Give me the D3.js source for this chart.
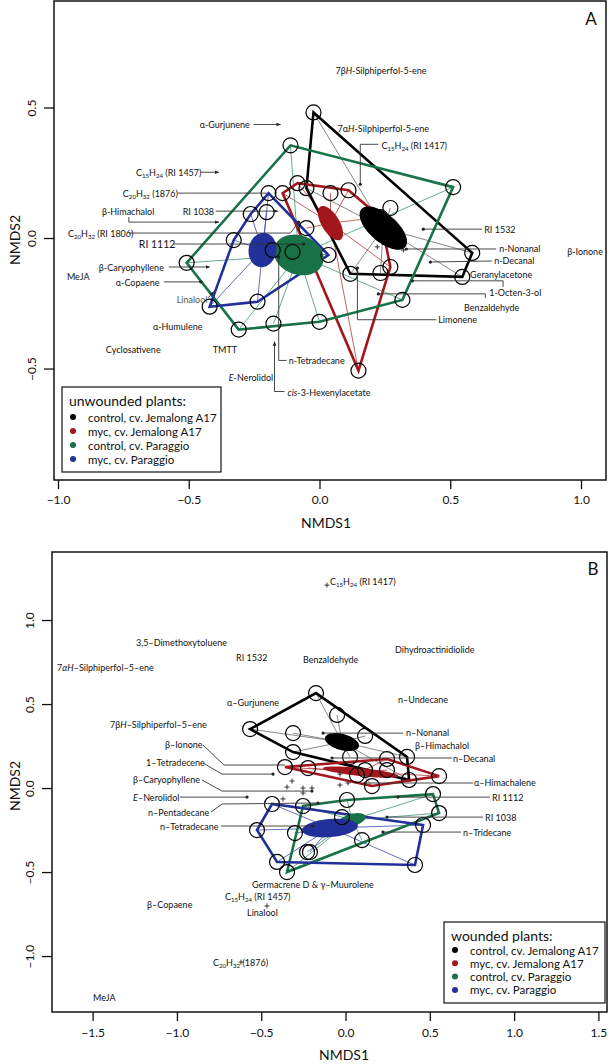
<!DOCTYPE html>
<html><head><meta charset="utf-8">
<script src="https://cdn.jsdelivr.net/npm/d3@7"></script>
<style>body{margin:0;background:#fff}svg{display:block}text{font-family:Lato,"Open Sans",sans-serif;fill:#111}</style>
</head><body>
<svg id="c" width="609" height="1064"></svg>
<script>
// ---------------- DATA ----------------
const groupNames = ["control, cv. Jemalong A17","myc, cv. Jemalong A17","control, cv. Paraggio","myc, cv. Paraggio"];

// Panel A (unwounded) sample scores per group
const sampA_ctrlJ = [[-0.023,0.481],[-0.050,0.191],[0.118,-0.137],[0.546,-0.149],[0.584,-0.057],[0.271,0.115],[0.233,-0.134]];
const sampA_mycJ  = [[-0.141,0.172],[-0.084,0.210],[0.111,0.183],[0.042,0.172],[0.233,0.080],[0.271,-0.111],[0.149,-0.508],[-0.050,0.038]];
const sampA_ctrlP = [[-0.111,0.355],[0.511,0.195],[0.317,-0.237],[0.000,-0.321],[-0.176,-0.328],[-0.309,-0.351],[-0.508,-0.095],[-0.103,-0.053]];
const sampA_mycP  = [[-0.195,0.172],[0.034,-0.065],[-0.237,-0.244],[-0.420,-0.263],[-0.328,-0.008],[-0.263,0.092],[-0.202,0.099],[-0.179,-0.046]];
// ellipses: [centre x, centre y, semi-axis a, semi-axis b, angle deg]
const ellA = [[0.244,0.038,0.111,0.053,-41],[0.042,0.057,0.074,0.034,-59],[-0.080,-0.065,0.098,0.075,-20],[-0.218,-0.046,0.066,0.053,80]];

// Panel B (wounded) sample scores per group
const sampB_ctrlJ = [[-0.175,0.565],[-0.566,0.351],[-0.050,0.435],[-0.311,0.327],[0.116,0.310],[-0.311,0.214],[0.027,0.185],[0.365,0.185],[0.377,0.048]];
const sampB_mycJ  = [[-0.359,0.125],[-0.222,0.119],[0.116,0.107],[0.246,0.107],[0.068,0.077],[0.157,0.012],[0.555,0.071],[0.246,0.173]];
const sampB_ctrlP = [[-0.252,-0.107],[0.009,-0.071],[0.519,-0.036],[0.555,-0.149],[-0.021,-0.173],[0.098,-0.310],[-0.347,-0.500],[-0.228,-0.381]];
const sampB_mycP  = [[-0.436,-0.095],[-0.525,-0.250],[-0.300,-0.268],[-0.211,-0.381],[-0.406,-0.440],[0.412,-0.458],[0.460,-0.220]];
const ellB = [[-0.021,0.274,0.104,0.048,-15],[0.090,0.095,0.225,0.024,-6],[0.039,-0.190,0.083,0.036,15],[-0.092,-0.238,0.166,0.054,5]];

// Species labels: text, label anchor (x,y), leader path, end marker
const speciesA = [
 {t:"7β*H*-Silphiperfol-5-ene", x:0.061, y:0.645},
 {t:"α-Gurjunene", x:-0.458, y:0.435, lead:[[-0.252,0.435],[-0.149,0.435]], end:"arrow"},
 {t:"7α*H*-Silphiperfol-5-ene", x:0.069, y:0.420},
 {t:"C_{15}H_{24} (RI 1457)", x:-0.702, y:0.252, lead:[[-0.454,0.252],[-0.385,0.252]], end:"arrow"},
 {t:"C_{15}H_{24} (RI 1417)", x:0.237, y:0.355, lead:[[0.225,0.359],[0.156,0.359],[0.156,0.206]], end:"dot"},
 {t:"C_{20}H_{32} (1876)", x:-0.752, y:0.172, lead:[[-0.542,0.172],[-0.202,0.172]]},
 {t:"β-Himachalol", x:-0.832, y:0.103, lead:[[-0.729,0.080],[-0.729,0.061],[-0.385,0.061]], end:"arrow"},
 {t:"RI 1038", x:-0.523, y:0.103, lead:[[-0.397,0.103],[-0.160,0.103]], end:"arrow"},
 {t:"C_{20}H_{32} (RI 1806)", x:-0.962, y:0.019, lead:[[-0.729,0.019],[-0.111,0.019],[-0.080,0.061]], end:"dot"},
 {t:"RI 1112", x:-0.691, y:-0.023, lead:[[-0.557,-0.023],[-0.061,-0.023]], end:"dot"},
 {t:"β-Caryophyllene", x:-0.844, y:-0.111, lead:[[-0.576,-0.111],[-0.420,-0.111]], end:"arrow"},
 {t:"MeJA", x:-0.966, y:-0.145},
 {t:"α-Copaene", x:-0.779, y:-0.168, lead:[[-0.595,-0.168],[-0.454,-0.168]], end:"dot"},
 {t:"Linalool", x:-0.546, y:-0.233, lead:[[-0.426,-0.229],[-0.405,-0.206]], end:"arrow"},
 {t:"α-Humulene", x:-0.637, y:-0.336},
 {t:"Cyclosativene", x:-0.817, y:-0.424},
 {t:"TMTT", x:-0.408, y:-0.424},
 {t:"*E*-Nerolidol", x:-0.347, y:-0.531},
 {t:"n-Tetradecane", x:-0.118, y:-0.469, lead:[[-0.126,-0.469],[-0.156,-0.469],[-0.156,-0.073]], end:"dot"},
 {t:"*cis*-3-Hexenylacetate", x:-0.122, y:-0.588, lead:[[-0.134,-0.588],[-0.172,-0.588],[-0.172,-0.397]], end:"arrow"},
 {t:"RI 1532", x:0.630, y:0.034, lead:[[0.622,0.034],[0.397,0.034]], end:"dot"},
 {t:"n-Nonanal", x:0.687, y:-0.038, lead:[[0.676,-0.042],[0.332,-0.042]], end:"dot"},
 {t:"n-Decanal", x:0.668, y:-0.084, lead:[[0.660,-0.088],[0.424,-0.092]], end:"dot"},
 {t:"β-Ionone", x:0.947, y:-0.050},
 {t:"Geranylacetone", x:0.576, y:-0.137},
 {t:"1-Octen-3-ol", x:0.649, y:-0.206, lead:[[0.702,-0.187],[0.702,-0.164],[0.355,-0.164]], end:"dot"},
 {t:"Benzaldehyde", x:0.553, y:-0.263, lead:[[0.634,-0.229],[0.634,-0.214],[0.225,-0.214]], end:"dot"},
 {t:"Limonene", x:0.454, y:-0.309, lead:[[0.447,-0.313],[0.145,-0.313],[0.145,-0.115]], end:"dot"}
];
const plusA = [[0.221,-0.034],[0.321,-0.046]];

const speciesB = [
 {t:"C_{15}H_{24} (RI 1417)", x:-0.092, y:1.232},
 {t:"3,5–Dimethoxytoluene", x:-1.243, y:0.869},
 {t:"Dihydroactinidiolide", x:0.294, y:0.827},
 {t:"RI 1532", x:-0.649, y:0.780},
 {t:"Benzaldehyde", x:-0.252, y:0.768},
 {t:"7*αH*–Silphiperfol–5–ene", x:-1.711, y:0.720},
 {t:"n–Undecane", x:0.311, y:0.530},
 {t:"α–Gurjunene", x:-0.703, y:0.512},
 {t:"7β*H*–Silphiperfol–5–ene", x:-1.397, y:0.381},
 {t:"n–Nonanal", x:0.359, y:0.333, lead:[[0.341,0.327],[-0.133,0.327]], end:"dot"},
 {t:"β–Ionone", x:-1.071, y:0.262, lead:[[-0.845,0.256],[-0.721,0.137],[-0.359,0.137]]},
 {t:"β–Himachalol", x:0.412, y:0.256},
 {t:"n–Decanal", x:0.638, y:0.179, lead:[[0.632,0.179],[-0.080,0.179]], end:"dot"},
 {t:"1–Tetradecene", x:-1.183, y:0.155, lead:[[-0.845,0.149],[-0.733,0.083],[-0.430,0.083]], end:"dot"},
 {t:"β–Caryophyllene", x:-1.260, y:0.054, lead:[[-0.851,0.048],[-0.733,-0.018],[-0.199,-0.018]], end:"dot"},
 {t:"α–Himachalene", x:0.762, y:0.036, lead:[[0.756,0.030],[0.116,0.030]], end:"dot"},
 {t:"*E*–Nerolidol", x:-1.260, y:-0.054, lead:[[-0.982,-0.054],[-0.584,-0.054]], end:"dot"},
 {t:"RI 1112", x:0.869, y:-0.054, lead:[[0.857,-0.054],[0.311,-0.054]], end:"dot"},
 {t:"n–Pentadecane", x:-1.171, y:-0.143, lead:[[-0.798,-0.143],[-0.733,-0.095],[-0.163,-0.089]], end:"dot"},
 {t:"RI 1038", x:0.828, y:-0.173, lead:[[0.816,-0.173],[0.246,-0.173]], end:"dot"},
 {t:"n–Tetradecane", x:-1.100, y:-0.226, lead:[[-0.738,-0.226],[-0.193,-0.226]], end:"dot"},
 {t:"n–Tridecane", x:0.697, y:-0.262, lead:[[0.685,-0.262],[0.222,-0.262]], end:"dot"},
 {t:"Germacrene D & γ–Muurolene", x:-0.555, y:-0.572},
 {t:"C_{15}H_{24} (RI 1457)", x:-0.715, y:-0.645},
 {t:"β–Copaene", x:-1.177, y:-0.690},
 {t:"Linalool", x:-0.584, y:-0.738},
 {t:"C_{20}H_{32} (1876)", x:-0.786, y:-1.036},
 {t:"MeJA", x:-1.498, y:-1.244}
];
const plusB = [[-0.110,1.208],[-0.466,-0.702],[-0.620,-1.036],[-0.347,0.006],[-0.317,0.042],[-0.252,-0.030],[-0.199,0.000],[-0.371,-0.065],[-0.033,0.083],[-0.033,0.018],[0.015,0.030],[-0.252,0.000]];

const xTicksA = [-1,-0.5,0,0.5,1], yTicksA = [-0.5,0,0.5];
const xTicksB = [-1.5,-1,-0.5,0,0.5,1,1.5], yTicksB = [-1,-0.5,0,0.5,1];

// ---------------- STYLE ----------------
const groupColors = ["#000000","#a3161b","#177347","#22309a"];
const spiderColors = ["#6a6a6a","#b53a3a","#3c9676","#3f4bb0"];
const svg = d3.select("#c");
const defs = svg.append("defs");
defs.append("marker").attr("id","arr").attr("viewBox","0 0 10 10").attr("refX",9).attr("refY",5)
  .attr("markerWidth",5).attr("markerHeight",5).attr("orient","auto")
  .append("path").attr("d","M0,1L10,5L0,9z").attr("fill","#222");

function rich(sel, str){
  const re = /_\{([^}]*)\}|\*([^*]*)\*|([^_*]+)/g;
  let m, sub=false;
  while((m = re.exec(str))){
    const ts = sel.append("tspan");
    if(m[1]!==undefined){ ts.attr("font-size","0.68em").attr("dy", sub?0:2.5).text(m[1]); sub=true; }
    else { ts.attr("dy", sub?-2.5:0); sub=false;
      if(m[2]!==undefined) ts.attr("font-style","italic").text(m[2]); else ts.text(m[3]); }
  }
}

function panel(cfg){
  const x = d3.scaleLinear().domain(cfg.xDom).range([cfg.box[0], cfg.box[2]]);
  const y = d3.scaleLinear().domain(cfg.yDom).range([cfg.box[3], cfg.box[1]]);
  const g = svg.append("g");
  const X = p=>x(p[0]), Y = p=>y(p[1]);
  // spiders
  cfg.samples.forEach((pts,i)=>{
    const e = cfg.ell[i];
    g.append("g").selectAll("line").data(pts).join("line")
      .attr("x1",x(e[0])).attr("y1",y(e[1])).attr("x2",X).attr("y2",Y)
      .attr("stroke",spiderColors[i]).attr("stroke-width",0.8);
  });
  // hulls
  cfg.samples.forEach((pts,i)=>{
    const hull = d3.polygonHull(pts.map(p=>[X(p),Y(p)]));
    g.append("path").attr("d","M"+hull.join("L")+"Z").attr("fill","none")
      .attr("stroke",groupColors[i]).attr("stroke-width",2.6).attr("stroke-linejoin","miter");
  });
  // ellipses
  cfg.ell.forEach((e,i)=>{
    const th = e[4]*Math.PI/180, pts=[];
    for(let k=0;k<72;k++){ const t=k/72*2*Math.PI;
      const dx=e[2]*Math.cos(t), dy=e[3]*Math.sin(t);
      pts.push([x(e[0]+dx*Math.cos(th)-dy*Math.sin(th)), y(e[1]+dx*Math.sin(th)+dy*Math.cos(th))]); }
    g.append("path").attr("d",d3.line()(pts)+"Z").attr("fill",groupColors[i]).attr("stroke","none");
  });
  // sample circles
  cfg.samples.forEach(pts=>{
    g.append("g").selectAll("circle").data(pts).join("circle")
      .attr("cx",X).attr("cy",Y).attr("r",cfg.r).attr("fill","none").attr("stroke","#000").attr("stroke-width",1.2);
  });
  // plus markers
  g.append("g").selectAll("path").data(cfg.plus).join("path")
    .attr("d",p=>`M${X(p)-2.5},${Y(p)}h5M${X(p)},${Y(p)-2.5}v5`)
    .attr("stroke","#222").attr("stroke-width",0.9).attr("fill","none");
  // leaders + labels
  cfg.species.forEach(s=>{
    if(s.lead){
      const p = g.append("path").attr("d",d3.line()(s.lead.map(q=>[X(q),Y(q)])))
        .attr("fill","none").attr("stroke","#333").attr("stroke-width",0.9);
      if(s.end==="arrow") p.attr("marker-end","url(#arr)");
      if(s.end==="dot"){ const q=s.lead[s.lead.length-1];
        g.append("circle").attr("cx",X(q)).attr("cy",Y(q)).attr("r",1.6).attr("fill","#222"); }
    }
    const t = g.append("text").attr("x",x(s.x)).attr("y",y(s.y)).attr("dominant-baseline","central")
      .attr("font-size", s.t==="RI 1112"&&cfg.id==="A" ? 10.5 : 9);
    if(s.t==="Linalool"&&cfg.id==="A") t.style("fill","#555");
    rich(t, s.t);
  });
  // frame
  const b=cfg.box;
  g.append("rect").attr("x",b[0]).attr("y",b[1]).attr("width",b[2]-b[0]).attr("height",b[3]-b[1])
    .attr("fill","none").attr("stroke","#111").attr("stroke-width",1.5);
  // axes
  const fmt = d3.format(".1f");
  const ax = g.append("g").attr("transform",`translate(0,${b[3]})`)
    .call(d3.axisBottom(x).tickValues(cfg.xTicks).tickSize(9).tickPadding(cfg.xPad).tickFormat(fmt));
  const ay = g.append("g").attr("transform",`translate(${b[0]},0)`)
    .call(d3.axisLeft(y).tickValues(cfg.yTicks).tickSize(10).tickFormat(fmt));
  [ax,ay].forEach(a=>{ a.select(".domain").remove(); a.selectAll("line").attr("stroke","#111").attr("stroke-width",1.3);
    a.selectAll("text").attr("font-size",12).attr("font-family","Lato,sans-serif").style("fill","#111"); });
  ay.selectAll(".tick text").attr("x",null).attr("dy",null).attr("text-anchor","middle")
    .attr("dominant-baseline","central").attr("transform",`translate(${cfg.yLab - b[0]},0) rotate(-90)`);
  g.append("text").attr("x",cfg.xTitle[0]).attr("y",cfg.xTitle[1]).attr("text-anchor","middle")
    .attr("dominant-baseline","central").attr("font-size",14).text("NMDS1");
  g.append("text").attr("transform",`translate(${cfg.yTitle[0]},${cfg.yTitle[1]}) rotate(-90)`).attr("text-anchor","middle")
    .attr("dominant-baseline","central").attr("font-size",14).text("NMDS2");
  // panel letter
  g.append("text").attr("x",cfg.letter[0]).attr("y",cfg.letter[1]).attr("text-anchor","middle")
    .attr("dominant-baseline","central").attr("font-size",17).text(cfg.id);
  // legend
  const L = cfg.leg;
  g.append("rect").attr("x",L[0]).attr("y",L[1]).attr("width",L[2]).attr("height",L[3])
    .attr("fill","#fff").attr("stroke","#111").attr("stroke-width",1.2);
  g.append("text").attr("x",L[0]+7).attr("y",L[1]+13).attr("dominant-baseline","central")
    .attr("font-size",14).text(cfg.legTitle);
  groupNames.forEach((n,i)=>{
    const yy = L[1]+L[4]+i*L[5];
    g.append("circle").attr("cx",L[0]+11).attr("cy",yy).attr("r",3).attr("fill",groupColors[i]);
    g.append("text").attr("x",L[0]+26).attr("y",yy).attr("dominant-baseline","central")
      .attr("font-size",11.5).text(n);
  });
}

panel({id:"A", box:[54,1,606,480], xDom:[-1.0153,1.0956], yDom:[-0.927,0.908],
  samples:[sampA_ctrlJ,sampA_mycJ,sampA_ctrlP,sampA_mycP], ell:ellA, species:speciesA, plus:plusA,
  xTicks:xTicksA, yTicks:yTicksA, r:7.5, xPad:6, yLab:31, xTitle:[326,522], yTitle:[14,240],
  letter:[591,18], leg:[62,387,159,85,30,14], legTitle:"unwounded plants:"});
panel({id:"B", box:[52,552,607,1012], xDom:[-1.741,1.551], yDom:[-1.333,1.405],
  samples:[sampB_ctrlJ,sampB_mycJ,sampB_ctrlP,sampB_mycP], ell:ellB, species:speciesB, plus:plusB,
  xTicks:xTicksB, yTicks:yTicksB, r:7.5, xPad:7, yLab:29, xTitle:[344,1054], yTitle:[14,786],
  letter:[593,568], leg:[444,922,161,81,28,13.3], legTitle:"wounded plants:"});
</script>
</body></html>
